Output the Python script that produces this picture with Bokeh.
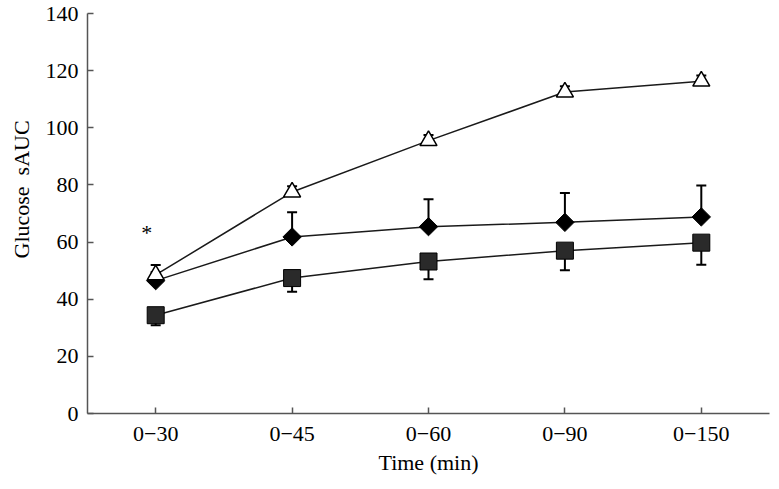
import numpy as np
from bokeh.plotting import figure
from bokeh.models import FactorRange, Range1d, FixedTicker, Title
from bokeh.core.properties import value
from bokeh.embed import file_html
from bokeh.resources import INLINE

# ---- data ----
periods = ["0−30", "0−45", "0−60", "0−90", "0−150"]
y_ticks = [0, 20, 40, 60, 80, 100, 120, 140]

tri_mean = [48.5, 77.5, 95.5, 112.5, 116.3]
tri_err = [3.5, 2.0, 2.0, 2.0, 2.0]

dia_mean = [46.5, 61.8, 65.4, 66.9, 68.8]
dia_err = [3.0, 8.6, 9.6, 10.3, 11.0]

sq_mean = [34.4, 47.4, 53.2, 57.0, 59.8]
sq_err = [3.5, 4.8, 6.2, 6.9, 7.7]

star_period = ["0−30"]
star_y = [63.5]

FONT = "Liberation Serif"
AXC = "#555555"

p = figure(x_range=FactorRange(*periods), y_range=Range1d(0, 140),
           frame_width=682, frame_height=400,
           min_border_left=87, min_border_right=2, min_border_top=13, min_border_bottom=68,
           output_backend="svg", toolbar_location=None)
p.xgrid.visible = False
p.ygrid.visible = False
p.outline_line_color = None
p.background_fill_color = "white"

for ax in (p.xaxis[0], p.yaxis[0]):
    ax.axis_line_color = AXC
    ax.axis_line_width = 1.5
    ax.major_tick_line_color = AXC
    ax.major_tick_line_width = 1.5
    ax.major_tick_in = 6
    ax.major_tick_out = 0
    ax.minor_tick_line_color = None
    ax.major_label_text_font = FONT
    ax.major_label_text_font_size = "22px"
    ax.major_label_text_color = "black"
    ax.axis_label_text_font = FONT
    ax.axis_label_text_font_size = "22px"
    ax.axis_label_text_font_style = "normal"
    ax.axis_label_text_color = "black"

p.yaxis.ticker = FixedTicker(ticks=y_ticks)
p.yaxis.major_label_standoff = 9
p.xaxis.major_label_standoff = 13
p.xaxis.axis_label = "Time (min)"
p.xaxis.axis_label_standoff = 6

# y axis title, placed like the original (a little above the axis middle)
p.add_layout(Title(text="Glucose\u00a0 sAUC", align="left", offset=155,
                   vertical_align="top",
                   text_font=FONT, text_font_size="22px", text_font_style="normal",
                   text_color="black", standoff=14), "left")

LC = "#1a1a1a"

# lines
p.line(periods, sq_mean, line_color=LC, line_width=1.5)
p.line(periods, dia_mean, line_color=LC, line_width=1.5)
p.line(periods, tri_mean, line_color=LC, line_width=1.5)

# error bars
def err_bars(means, errs, sign):
    ends = [m + sign * e for m, e in zip(means, errs)]
    p.segment(x0=periods, y0=means, x1=periods, y1=ends, line_color="black", line_width=2)
    p.scatter(periods, ends, marker="dash", size=10, line_color="black", line_width=2)

err_bars(sq_mean, sq_err, -1)
err_bars(dia_mean, dia_err, +1)
err_bars(tri_mean, tri_err, +1)

# markers
p.scatter(periods, sq_mean, marker="square", size=17, fill_color="#2a2a2a",
          line_color="black", line_width=1)
p.scatter(periods, dia_mean, marker="square", angle=np.pi / 4, size=13,
          fill_color="black", line_color="black", line_width=1)
p.scatter(periods, tri_mean, marker="triangle", size=17, fill_color="white",
          line_color="black", line_width=1.5)

p.text(x=star_period, y=star_y, text=["*"], x_offset=-9,
       text_font=value(FONT), text_font_size="22px", text_align="center",
       text_baseline="middle", text_color="black")

open("out.html", "w").write(file_html(p, INLINE))
